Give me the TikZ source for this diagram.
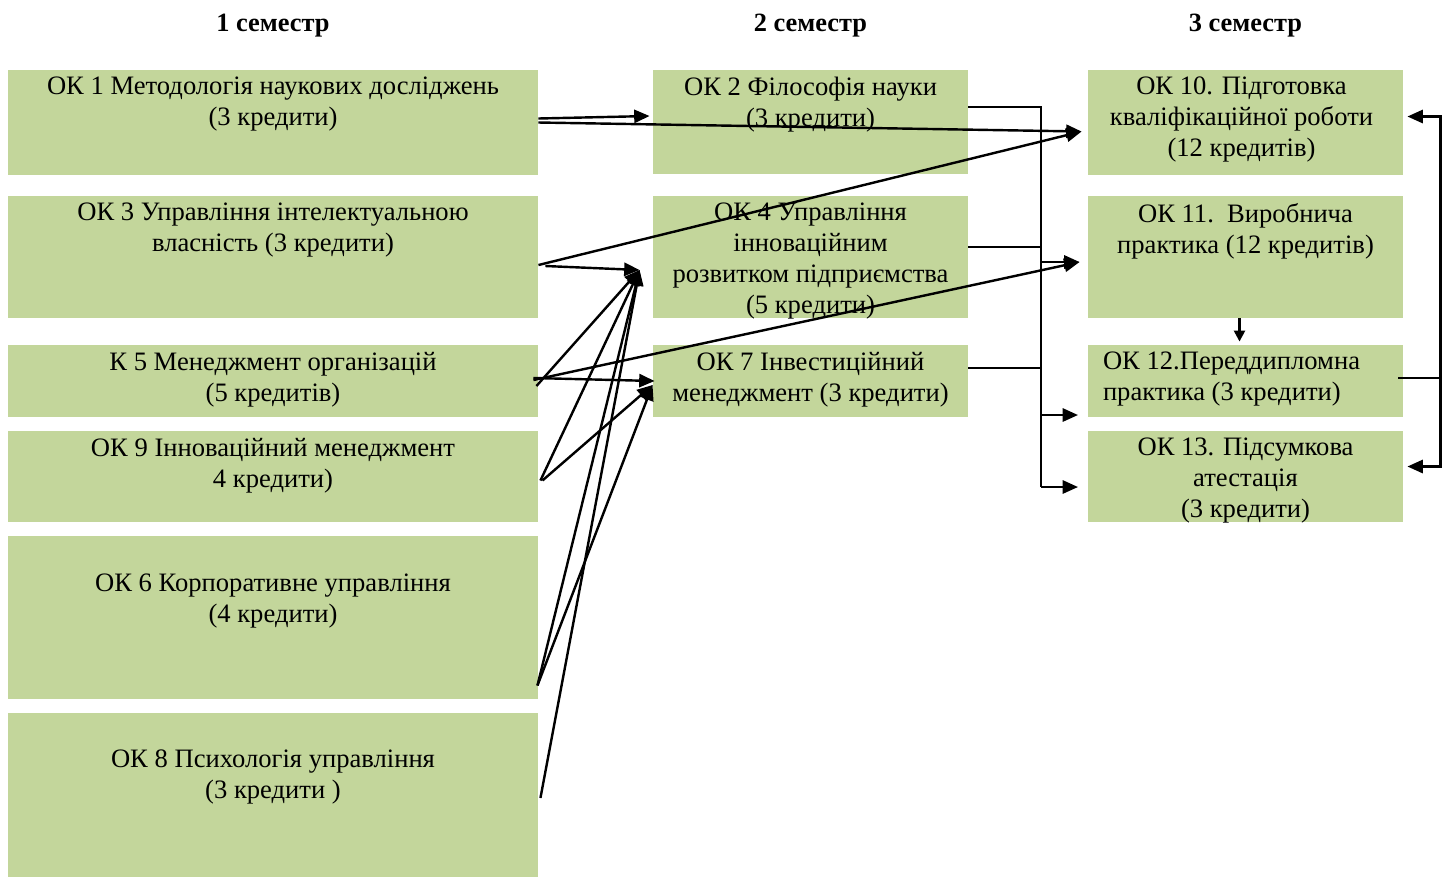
\documentclass[tikz,border=0pt]{standalone}
\usepackage{fontspec}
\setmainfont{Liberation Serif}
\usepackage{tikz}
\usetikzlibrary{calc,fit,arrows.meta}
\definecolor{boxgreen}{HTML}{C3D69B}

\begin{document}
\begin{tikzpicture}[x=0.455pt,y=-0.455pt]
\tikzstyle{box}=[rectangle,fill=boxgreen,inner sep=0pt]
\tikzstyle{txt}=[align=center,inner sep=0pt,anchor=north,font=\fontsize{12.1}{14.1}\selectfont]
\tikzstyle{head}=[inner sep=0pt,font=\bfseries\fontsize{12}{14}\selectfont]
\tikzstyle{link}=[line width=1.1pt,-{Triangle[length=7pt,width=6pt]}]
\tikzstyle{bus}=[line width=0.7pt]

\useasboundingbox (0,0) rectangle (1448,877);

% 1 семестр
\node[box,fit={(8,70) (538,175)}] (ok1) {};
\node[box,fit={(8,196) (538,318)}] (ok3) {};
\node[box,fit={(8,345) (538,417)}] (k5) {};
\node[box,fit={(8,431) (538,522)}] (ok9) {};
\node[box,fit={(8,536) (538,699)}] (ok6) {};
\node[box,fit={(8,713) (538,877)}] (ok8) {};
% 2 семестр
\node[box,fit={(653,70) (968,174)}] (ok2) {};
\node[box,fit={(653,196) (968,318)}] (ok4) {};
\node[box,fit={(653,345) (968,417)}] (ok7) {};
% 3 семестр
\node[box,fit={(1088,70) (1403,175)}] (ok10) {};
\node[box,fit={(1088,196) (1403,318)}] (ok11) {};
\node[box,fit={(1088,345) (1403,417)}] (ok12) {};
\node[box,fit={(1088,431) (1403,522)}] (ok13) {};

\node[head] (sem1) at ($(ok1.north)+(0,-44)$) {1 семестр};
\node[head] (sem2) at ($(ok2.north)+(0,-44)$) {2 семестр};
\node[head] (sem3) at ($(ok10.north)+(0,-44)$) {3 семестр};

\node[txt] (ok1t) at ($(ok1.north)+(0,7)$) {ОК 1 Методологія наукових досліджень\\(3 кредити)};
\node[txt] (ok3t) at ($(ok3.north)+(0,7)$) {ОК 3 Управління інтелектуальною\\власність (3 кредити)};
\node[txt] (k5t) at ($(k5.north)+(0,7)$) {К 5 Менеджмент організацій\\(5 кредитів)};
\node[txt] (ok9t) at ($(ok9.north)+(0,7)$) {ОК 9 Інноваційний менеджмент\\4 кредити)};
\node[txt] (ok6t) at ($(ok6.north)+(0,38)$) {ОК 6 Корпоративне управління\\(4 кредити)};
\node[txt] (ok8t) at ($(ok8.north)+(0,37)$) {ОК 8 Психологія управління\\(3 кредити )};
\node[txt] (ok2t) at ($(ok2.north)+(0,7)$) {ОК 2 Філософія науки\\(3 кредити)};
\node[txt] (ok4t) at ($(ok4.north)+(0,7)$) {ОК 4 Управління\\інноваційним\\розвитком підприємства\\(5 кредити)};
\node[txt] (ok7t) at ($(ok7.north)+(0,7)$) {ОК 7 Інвестиційний\\менеджмент (3 кредити)};
\node[txt] (ok10t) at ($(ok10.north)+(-4,7)$) {ОК 10. Підготовка\\кваліфікаційної роботи\\(12 кредитів)};
\node[txt] (ok11t) at ($(ok11.north)+(0,7)$) {ОК 11.\ \ Виробнича\\практика (12 кредитів)};
\node[txt,align=left,anchor=north west] (ok12t) at ($(ok12.north west)+(15,7)$) {ОК 12.Переддипломна\\практика (3 кредити)};
\node[txt] (ok13t) at ($(ok13.north)+(0,7)$) {ОК 13. Підсумкова\\атестація\\(3 кредити)};

% where the arrows end
\coordinate (ok2in) at ($(ok2.west)+(-3,-6)$);
\coordinate (ok4in) at ($(ok4.west)+(-13,13)$);
\coordinate (ok7in) at ($(ok7.west)+(2,0)$);
\coordinate (ok7inb) at ($(ok7.west)+(0,4)$);
\coordinate (ok10in) at ($(ok10.west)+(-6,9)$);
\coordinate (ok11in) at ($(ok11.west)+(-8,5)$);

\draw[link] ($(ok1.east)+(0,-4)$) -- (ok2in);
\draw[link] (ok1.east) -- (ok10in);
\draw[link] ($(ok3.east)+(0,8)$) -- (ok10in);
\draw[link] ($(ok3.east)+(7,9)$) -- (ok4in);
\draw[link] ($(k5.east)+(-5,-1)$) -- (ok11in);
\draw[link] ($(k5.east)+(-5,-3)$) -- (ok7in);
\draw[link] ($(k5.east)+(-2,5)$) -- (ok4in);
\draw[link] ($(ok9.east)+(2,4)$) -- (ok4in);
\draw[link] ($(ok9.east)+(4,4)$) -- (ok7inb);
\draw[link] ($(ok6.east)+(-1,68)$) -- (ok4in);
\draw[link] ($(ok6.east)+(-1,68)$) -- (ok7inb);
\draw[link] ($(ok8.east)+(2,3)$) -- (ok4in);

% сполучна шина
\coordinate (busbot) at (1041,487);
\draw[bus] ($(ok2.east)+(0,-15)$) -| (busbot);
\draw[bus] ($(ok4.east)+(0,-10)$) -- ++(73,0);
\draw[bus] ($(ok7.east)+(0,-13)$) -- ++(73,0);
\draw[link] (busbot |- ok11in) -- (ok11in);
\draw[link] (busbot |- 0,415) -- ++(37,0);
\draw[link] (busbot) -- ++(37,0);

\draw[link,-{Triangle[length=5pt,width=5pt]}] ($(ok11.south)+(-6,0)$) -- ($(ok12.north)+(-6,-3)$);
\draw[line width=1.1pt] ($(ok12.east)+(-5,-3)$) -- ++(42,0);
\draw[link] ($(ok12.east)+(37,-3)$) |- ($(ok10.east)+(4,-6)$);
\draw[link] ($(ok12.east)+(37,-3)$) |- ($(ok13.east)+(4,-10)$);
\end{tikzpicture}
\end{document}
